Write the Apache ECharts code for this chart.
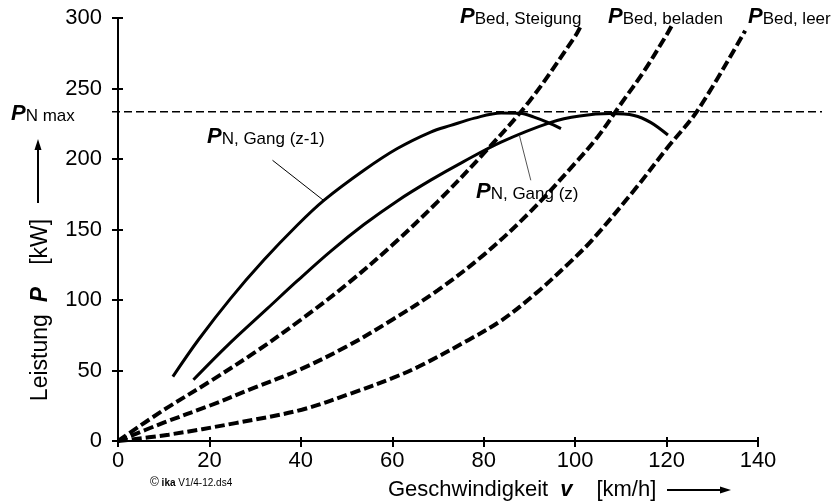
<!DOCTYPE html>
<html>
<head>
<meta charset="utf-8">
<script src="https://cdn.jsdelivr.net/npm/echarts@6/dist/echarts.min.js"></script>
<style>
html,body{margin:0;padding:0;background:#fff;}
#chart{width:834px;height:504px;}
</style>
</head>
<body>
<div id="chart"></div>
<script>
// ---- data ----
const xTicks = [0, 20, 40, 60, 80, 100, 120, 140];
const yTicks = [0, 50, 100, 150, 200, 250, 300];

// Fahrwiderstandsleistung, Steigung
const vSteigung = [0, 10, 20, 30, 40, 50, 60, 70, 80, 90, 100, 101.2];
const pSteigung = [0, 22, 42, 63, 86, 111, 139, 170, 204, 241, 287, 294];
// Fahrwiderstandsleistung, beladen
const vBeladen = [0, 10, 20, 30, 40, 50, 60, 70, 80, 90, 100, 105, 110, 115, 120, 121.2];
const pBeladen = [0, 13, 25, 38, 51, 67, 86, 107, 132, 162, 197, 216, 239, 262, 288, 295];
// Fahrwiderstandsleistung, leer
const vLeer = [0, 11.1, 25.7, 40.2, 51.2, 60, 65.8, 76.7, 84, 91.4, 98.6, 103.7, 112.9, 120.3, 126.8, 137.2];
const pLeer = [0, 4.5, 12.7, 22.2, 34, 44.6, 52.8, 71.7, 85.8, 104.7, 126, 142.5, 177.8, 208.5, 234.5, 291];
// Motorleistung im Gang (z-1)
const vGangZm1 = [12.0, 17.6, 24.6, 31.9, 39.2, 45.1, 53.8, 61.1, 68.4, 72.8, 78, 83.8, 88, 91.0, 94, 96.9];
const pGangZm1 = [45.7, 71.8, 101, 128.3, 153, 170.8, 192, 207.4, 219.1, 223.8, 229, 232.6, 232.5, 229.7, 226, 221.5];
// Motorleistung im Gang (z)
const vGangZ = [16.5, 24.2, 32.7, 39.2, 46.5, 53.8, 61.1, 68.4, 75.5, 83.8, 94.7, 101, 107.8, 112.9, 116.5, 120.3];
const pGangZ = [43.4, 68.5, 94, 113.5, 134.5, 153.5, 170.3, 185, 198, 212, 226, 230.5, 232.2, 230.9, 226, 217];
// P_N max reference line (drawn across the full width, beyond the plot frame)
const vNmax = [-1.3, 154];
const pNmax = [233.5, 233.5];
// leader lines for the curve labels
const vLeadZm1 = [33.8, 45.1];
const pLeadZm1 = [199.1, 170.3];
const vLeadZ = [87.8, 90.3];
const pLeadZ = [216.8, 184.9];

const pairs = (xs, ys) => xs.map((x, i) => [x, ys[i]]);

const FONT = 'Liberation Sans, Arial, Helvetica, sans-serif';
const chart = echarts.init(document.getElementById('chart'), null, {renderer: 'canvas'});

const dashStyle = {color: '#000', width: 4, type: [10, 4], cap: 'butt'};
const solidStyle = {color: '#000', width: 3};

function lineSeries(name, xs, ys, style, smooth, extra) {
  return Object.assign({
    name: name,
    type: 'line',
    xAxisIndex: 0,
    yAxisIndex: 0,
    data: pairs(xs, ys),
    showSymbol: false,
    symbol: 'none',
    smooth: smooth,
    lineStyle: style,
    silent: true,
    animation: false
  }, extra || {});
}

const richLabel = {
  P: {fontFamily: FONT, fontSize: 22, fontWeight: 'bold', fontStyle: 'italic', color: '#000', lineHeight: 22, verticalAlign: 'bottom'},
  s: {fontFamily: FONT, fontSize: 17, color: '#000', lineHeight: 10, verticalAlign: 'bottom'}
};
function curveLabel(x, y, sub) {
  return {
    type: 'text', x: x, y: y, silent: true,
    style: {text: '{P|P}{s|' + sub + '}', rich: richLabel, align: 'left', verticalAlign: 'bottom'}
  };
}

const axisCommon = {
  axisLine: {show: true, onZero: false, lineStyle: {color: '#000', width: 2}},
  splitLine: {show: false}
};
const hiddenAxis = {
  show: false, axisLine: {show: false}, axisTick: {show: false}, axisLabel: {show: false}, splitLine: {show: false}
};

const option = {
  backgroundColor: '#fff',
  animation: false,
  grid: [
    {left: 118, right: 76, top: 18, bottom: 63, containLabel: false},
    // same vertical scale, wider horizontally: carries the P_N max line past the frame
    {left: 112, right: 12, top: 18, bottom: 63, containLabel: false}
  ],
  xAxis: [
    Object.assign({
      type: 'value', min: 0, max: 140, interval: 20, position: 'bottom', gridIndex: 0,
      axisTick: {show: true, length: 6, lineStyle: {color: '#000', width: 2}},
      axisLabel: {fontFamily: FONT, fontSize: 22, color: '#000', margin: 9,
        formatter: v => xTicks.includes(v) ? String(v) : ''}
    }, axisCommon),
    {
      type: 'value', min: 0, max: 140, interval: 20, position: 'bottom', gridIndex: 0,
      axisLine: {show: false}, splitLine: {show: false}, axisLabel: {show: false},
      axisTick: {show: true, inside: true, length: 4, lineStyle: {color: '#000', width: 2}}
    },
    Object.assign({type: 'value', gridIndex: 1, min: vNmax[0], max: vNmax[1]}, hiddenAxis)
  ],
  yAxis: [
    Object.assign({
      type: 'value', min: 0, max: 300, interval: 50, position: 'left', gridIndex: 0,
      axisTick: {show: true, length: 6, lineStyle: {color: '#000', width: 2}},
      axisLabel: {fontFamily: FONT, fontSize: 22, color: '#000', margin: 16,
        formatter: v => yTicks.includes(v) ? String(v) : ''}
    }, axisCommon),
    {
      type: 'value', min: 0, max: 300, interval: 50, position: 'left', gridIndex: 0,
      axisLine: {show: false}, splitLine: {show: false}, axisLabel: {show: false},
      axisTick: {show: true, inside: true, length: 5, lineStyle: {color: '#000', width: 2}}
    },
    Object.assign({type: 'value', gridIndex: 1, min: 0, max: 300}, hiddenAxis)
  ],
  series: [
    lineSeries('P_N max', vNmax, pNmax, {color: '#000', width: 1.5, type: [8, 4]}, false, {xAxisIndex: 2, yAxisIndex: 2}),
    lineSeries('P_Bed, Steigung', vSteigung, pSteigung, dashStyle, 0.35),
    lineSeries('P_Bed, beladen', vBeladen, pBeladen, dashStyle, 0.35),
    lineSeries('P_Bed, leer', vLeer, pLeer, dashStyle, 0.35),
    lineSeries('P_N, Gang (z-1)', vGangZm1, pGangZm1, solidStyle, 0.35),
    lineSeries('P_N, Gang (z)', vGangZ, pGangZ, solidStyle, 0.35),
    lineSeries('leader z-1', vLeadZm1, pLeadZm1, {color: '#000', width: 1}, false),
    lineSeries('leader z', vLeadZ, pLeadZ, {color: '#555', width: 1}, false)
  ],
  graphic: [
    curveLabel(460, 28, 'Bed, Steigung'),
    curveLabel(608, 28, 'Bed, beladen'),
    curveLabel(748, 28, 'Bed, leer'),
    curveLabel(207, 148, 'N, Gang (z-1)'),
    curveLabel(476, 203, 'N, Gang (z)'),
    curveLabel(11, 125, 'N max'),
    // y axis title
    {
      type: 'text', x: 41, y: 310, rotation: Math.PI / 2, silent: true,
      style: {
        text: 'Leistung{gap|}{P|P}{gap2|}[kW]',
        align: 'center', verticalAlign: 'middle',
        fontFamily: FONT, fontSize: 23, fill: '#000',
        rich: {
          P: {fontFamily: FONT, fontSize: 23, fontWeight: 'bold', fontStyle: 'italic'},
          gap: {width: 12},
          gap2: {width: 22}
        }
      }
    },
    // y axis arrow
    {type: 'line', silent: true, shape: {x1: 38, y1: 203, x2: 38, y2: 148}, style: {stroke: '#000', lineWidth: 2}},
    {type: 'polygon', silent: true, shape: {points: [[38, 139], [34.5, 150], [41.5, 150]]}, style: {fill: '#000'}},
    // x axis title
    {
      type: 'text', x: 388, y: 490, silent: true,
      style: {
        text: 'Geschwindigkeit{gap|}{v|v}{gap2|}[km/h]',
        align: 'left', verticalAlign: 'middle',
        fontFamily: FONT, fontSize: 22, fill: '#000',
        rich: {
          v: {fontFamily: FONT, fontSize: 22, fontWeight: 'bold', fontStyle: 'italic'},
          gap: {width: 12},
          gap2: {width: 24}
        }
      }
    },
    {type: 'line', silent: true, shape: {x1: 667, y1: 490, x2: 722, y2: 490}, style: {stroke: '#000', lineWidth: 2}},
    {type: 'polygon', silent: true, shape: {points: [[731, 490], [720, 486.5], [720, 493.5]]}, style: {fill: '#000'}},
    // copyright
    {
      type: 'text', x: 150, y: 483, silent: true,
      style: {
        text: '{c|©} {b|ika} V1/4-12.ds4',
        align: 'left', verticalAlign: 'middle',
        fontFamily: FONT, fontSize: 10, fill: '#000',
        rich: {c: {fontSize: 12}, b: {fontWeight: 'bold', fontSize: 10}}
      }
    }
  ]
};
chart.setOption(option);
</script>
</body>
</html>
